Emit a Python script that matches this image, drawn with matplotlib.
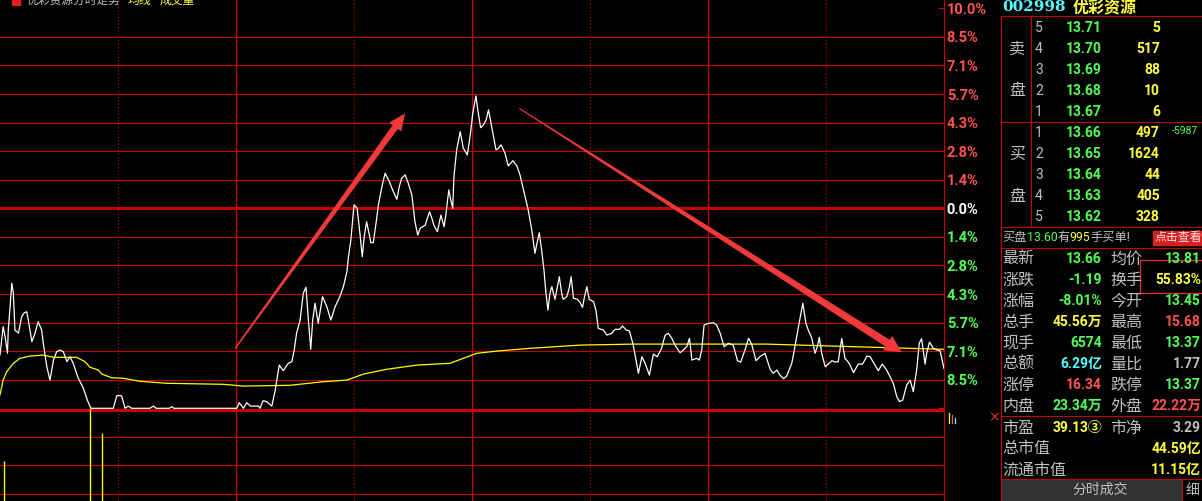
"""Intraday time-share chart of 002998 优彩资源 with the quote panel on the right."""

import numpy as np
import matplotlib
matplotlib.use("Agg")
import matplotlib.pyplot as plt
from matplotlib.lines import Line2D
from matplotlib.patches import Polygon, Rectangle
from matplotlib.transforms import IdentityTransform

plt.rcParams["font.family"] = ["Roboto", "Noto Sans CJK SC", "DejaVu Sans"]

W, H = 1202, 501

# ---- chart data (minutes since 9:30, % change vs previous close 14.85) ----
minutes = [
    0, 0.8, 1.3, 1.9, 2.1, 2.5, 3.0, 3.4, 3.8, 4.7,
    5.5, 6.1, 6.8, 7.2, 8.1, 8.9, 9.7, 10.6, 11.0, 11.9,
    12.7, 13.6, 14.4, 15.3, 16.1, 17.0, 17.8, 18.6, 19.9, 21.2,
    22.2, 23.1, 28.8, 29.7, 30.9, 31.8, 32.6, 33.5, 38.1, 39.0,
    39.7, 43.0, 43.7, 44.2, 60.2, 60.8, 61.9, 62.7, 63.7, 65.7,
    66.1, 66.9, 67.8, 69.1, 69.9, 71.0, 72.0, 73.3, 74.2, 74.8,
    75.4, 76.3, 77.1, 77.8, 78.4, 79.0, 79.5, 80.1, 80.9, 82.0,
    83.1, 84.1, 85.2, 86.4, 87.3, 88.2, 88.6, 89.2, 90.0, 90.8,
    91.5, 92.1, 92.6, 93.2, 93.8, 94.3, 94.9, 95.6, 96.2, 97.1,
    97.9, 99.0, 100.0, 100.9, 101.5, 102.1, 103.0, 103.8, 104.7, 105.5,
    106.2, 106.8, 108.1, 109.2, 109.8, 110.3, 111.2, 112.1, 112.9, 113.4,
    114.1, 114.6, 115.1, 115.4, 116.1, 117.0, 117.8, 118.8, 119.5, 120.2,
    121.0, 121.6, 122.2, 122.9, 123.6, 124.2, 125.0, 126.1, 126.7, 127.4,
    128.0, 128.4, 129.2, 130.4, 131.4, 132.2, 133.1, 134.3, 135.2, 136.0,
    136.6, 137.1, 137.7, 138.3, 138.8, 139.3, 139.8, 140.3, 140.7, 141.1,
    141.7, 142.2, 142.8, 143.2, 144.1, 144.7, 145.2, 145.8, 146.8, 147.5,
    148.1, 148.6, 149.2, 149.8, 150.9, 151.5, 152.1, 153.4, 154.3, 155.5,
    156.4, 157.5, 158.3, 159.2, 160.0, 161.0, 162.3, 163.2, 164.0, 165.1,
    166.1, 167.1, 168.2, 169.1, 169.9, 170.8, 171.6, 172.9, 173.7, 174.6,
    175.3, 175.9, 177.1, 177.8, 178.4, 179.0, 180.1, 181.4, 182.2, 183.1,
    184.1, 185.2, 186.4, 187.5, 188.3, 189.4, 190.3, 191.1, 192.2, 193.2,
    194.5, 195.8, 196.6, 197.5, 198.3, 199.2, 200.0, 201.3, 202.1, 203.0,
    204.1, 204.9, 205.5, 206.4, 207.2, 207.8, 208.3, 208.9, 209.8, 210.6,
    211.5, 212.3, 213.1, 214.0, 214.8, 215.9, 217.0, 218.2, 219.3, 220.4,
    221.2, 222.2, 223.3, 224.3, 225.3, 226.3, 227.1, 228.0, 228.7, 229.5,
    230.5, 231.4, 232.2, 233.1, 233.7, 234.3, 235.2, 235.6, 236.3, 237.3,
    238.2, 239.0, 240.0,
]
chg_pct = [
    -7.33, -5.92, -6.42, -7.24, -6.09, -5.09, -3.75, -4.25, -6.09, -6.24,
    -5.42, -5.24, -5.17, -5.59, -6.67, -6.25, -5.67, -6.09, -6.75, -7.92,
    -8.59, -7.59, -7.17, -7.09, -7.17, -7.67, -7.42, -7.75, -8.50, -9.00,
    -9.59, -10.00, -10.00, -9.37, -9.37, -10.00, -9.89, -10.00, -10.00, -9.89,
    -10.00, -10.00, -9.92, -10.00, -10.00, -9.72, -10.00, -9.72, -9.89, -9.89,
    -10.00, -9.62, -9.67, -9.89, -9.17, -7.84, -8.12, -7.75, -7.67, -7.09,
    -6.25, -5.59, -4.25, -3.95, -5.59, -7.05, -5.59, -4.75, -5.75, -4.42,
    -4.92, -5.59, -4.92, -4.42, -3.92, -3.17, -2.42, -1.59, 0.17, 0.00,
    -1.25, -2.42, -1.42, -0.67, -1.25, -1.72, -1.72, -0.75, 0.17, 1.08,
    1.75, 1.33, 0.83, 0.45, 1.08, 1.50, 1.67, 1.25, 0.67, -0.67,
    -1.34, -1.00, -0.84, -0.17, -0.50, -0.84, -1.17, -0.34, -0.92, -0.25,
    0.92, 0.42, 0.00, 1.58, 2.92, 3.83, 3.00, 2.67, 3.58, 4.75,
    5.62, 4.75, 4.03, 4.17, 4.42, 4.92, 4.08, 2.92, 3.00, 3.17,
    2.92, 2.75, 2.12, 2.38, 2.12, 1.67, 0.92, -0.09, -1.09, -2.25,
    -1.67, -1.22, -2.09, -3.09, -4.25, -5.09, -4.25, -3.92, -4.25, -4.55,
    -3.92, -3.42, -4.25, -4.55, -4.42, -4.00, -3.42, -4.50, -4.55, -4.72,
    -4.95, -4.42, -3.92, -4.55, -4.67, -5.09, -6.00, -6.09, -6.34, -6.25,
    -6.05, -6.05, -5.89, -6.09, -6.12, -6.84, -8.25, -7.42, -7.75, -8.34,
    -7.29, -7.42, -7.00, -6.34, -6.25, -6.50, -6.84, -7.22, -7.09, -6.92,
    -6.50, -7.59, -7.50, -7.59, -7.09, -5.84, -5.75, -5.72, -5.84, -6.25,
    -6.92, -6.75, -6.84, -7.62, -7.69, -7.09, -6.50, -6.79, -7.62, -7.42,
    -7.25, -8.05, -8.25, -8.09, -8.34, -8.52, -8.39, -7.75, -6.92, -5.92,
    -4.75, -5.75, -6.09, -6.50, -7.25, -6.92, -6.45, -7.25, -7.92, -7.79,
    -7.62, -7.69, -7.67, -6.50, -7.50, -7.75, -8.22, -7.79, -7.79, -7.39,
    -7.42, -7.75, -8.12, -7.79, -8.05, -8.42, -8.75, -9.42, -9.67, -9.59,
    -8.84, -8.59, -9.17, -8.00, -6.75, -6.52, -7.79, -7.25, -6.69, -7.00,
    -7.09, -7.12, -8.01,
]
avg_minutes = [0, 0.8, 1.7, 3.4, 5.1, 7.6, 11.0, 13.6, 19.5, 21.6, 22.9, 25.0,
               25.9, 28.4, 31.4, 35.6, 42.4, 56.8, 61.9, 73.7, 82.2, 88.2, 92.4,
               98.3, 106.0, 114.4, 121.2, 126.3, 134.8, 147.5, 161.0, 194.9,
               211.9, 240.0]
avg_pct = [-9.33, -8.59, -8.17, -7.75, -7.50, -7.39, -7.34, -7.45, -7.45, -7.67,
           -7.95, -8.09, -8.29, -8.47, -8.50, -8.65, -8.75, -8.80, -8.89, -8.85,
           -8.67, -8.59, -8.29, -8.05, -7.84, -7.75, -7.25, -7.14, -7.00, -6.84,
           -6.79, -6.79, -6.89, -7.05]
vol_minutes = [1, 23, 26]
vol_lots = [21800, 31000, 26200]

axis_labels = ["10.0%", "8.5%", "7.1%", "5.7%", "4.3%", "2.8%", "1.4%", "0.0%",
               "1.4%", "2.8%", "4.3%", "5.7%", "7.1%", "8.5%"]

# ---- quote panel data ----
prev_close = 14.85
sell_levels = [5, 4, 3, 2, 1]
sell_prices = [13.71, 13.70, 13.69, 13.68, 13.67]
sell_vols = [5, 517, 88, 10, 6]
buy_levels = [1, 2, 3, 4, 5]
buy_prices = [13.66, 13.65, 13.64, 13.63, 13.62]
buy_vols = [497, 1624, 44, 405, 328]

GRID = "#c80000"
GREEN = "#52ff52"
RED = "#ff5252"
YELLOW = "#ffff40"
CYAN = "#52ffff"
GRAY = "#c0c0c0"
ARROW = "#f03a3a"

stats_left = [("最新", "13.66", GREEN), ("涨跌", "-1.19", GREEN),
              ("涨幅", "-8.01%", GREEN), ("总手", "45.56万", YELLOW),
              ("现手", "6574", GREEN), ("总额", "6.29亿", CYAN),
              ("涨停", "16.34", RED), ("内盘", "23.34万", GREEN)]
stats_right = [("均价", "13.81", GREEN), ("换手", "55.83%", YELLOW),
               ("今开", "13.45", GREEN), ("最高", "15.68", RED),
               ("最低", "13.37", GREEN), ("量比", "1.77", GRAY),
               ("跌停", "13.37", GREEN), ("外盘", "22.22万", RED)]

CJK = ["Noto Sans CJK SC", "DejaVu Sans"]
NUM = ["Roboto", "Noto Sans CJK SC", "DejaVu Sans"]

fig = plt.figure(figsize=(W / 100, H / 100), dpi=100, facecolor="black")


def fx(x):
    return x / W


def fy(y):
    return 1 - y / H


def put(x, y, s, color, size, ha="left", weight="normal", family=NUM, **kw):
    return fig.text(fx(x), fy(y), s, color=color, fontsize=size, ha=ha,
                    va="center", fontweight=weight, family=family, **kw)


def hline(y, x0, x1, color=GRID, lw=1.0):
    fig.add_artist(Line2D([fx(x0), fx(x1)], [fy(y), fy(y)], color=color,
                          lw=lw * 0.72, transform=fig.transFigure))


def vline(x, y0, y1, color=GRID, lw=1.0):
    fig.add_artist(Line2D([fx(x), fx(x)], [fy(y0), fy(y1)], color=color,
                          lw=lw * 0.72, transform=fig.transFigure))


# ---- main price axes ----
chart_w = 944
ax = fig.add_axes([0, 0, chart_w / W, 1])
ax.set_facecolor("black")
ax.set_xlim(0, 240)
ax.set_ylim(10.415 - H / 20.0, 10.415)

step = 10 / 7
levels = [k * step for k in range(7, -11, -1)]
for lv in levels[1:]:
    thick = abs(lv) < 1e-9 or abs(lv + 10) < 1e-9
    ax.axhline(lv - (0.08 if abs(lv + 10) < 1e-9 else 0), color=GRID,
               lw=2.2 if thick else 0.8, zorder=1)
for t in (60, 120, 180):
    ax.axvline(t, color=GRID, lw=0.9, zorder=1)
for t in (30, 90, 150, 210):
    ax.axvline(t, color=GRID, lw=0.8, ls=(0, (1, 2)), zorder=1)

ax.plot(avg_minutes, avg_pct, color="#ffff00", lw=0.9, zorder=3)
ax.plot(minutes, chg_pct, color="white", lw=0.9, zorder=4)

for side in ("top", "left", "bottom"):
    ax.spines[side].set_visible(False)
ax.spines["right"].set_color(GRID)
ax.spines["right"].set_linewidth(0.8)
ax.set_xticks([])
ax.yaxis.tick_right()
tick_labels = axis_labels + [""] * (len(levels) - len(axis_labels))
ax.set_yticks(levels, labels=tick_labels)
ax.tick_params(axis="y", direction="in", length=4, width=0.8, color=GRID,
               pad=2, labelsize=10.5)
for lv, lbl in zip(levels, ax.get_yticklabels()):
    lbl.set_fontweight("bold")
    lbl.set_color(RED if lv > 1e-9 else ("white" if abs(lv) < 1e-9 else GREEN))

# ---- volume axes (baseline sits below the visible crop) ----
vax = fig.add_axes([0, (H - 600) / H, chart_w / W, (600 - 409) / H])
vax.set_xlim(0, 240)
vax.set_ylim(0, 30000)
vax.axis("off")
vax.vlines(vol_minutes, 0, vol_lots, color="#ffff00", lw=1.0)


# ---- hand-drawn style arrows ----
def tapered_arrow(start, end, w0, w1, head_w, head_l):
    s = ax.transData.transform(start)
    e = ax.transData.transform(end)
    u = (e - s) / np.hypot(*(e - s))
    n = np.array([-u[1], u[0]])
    b = e - u * head_l
    pts = [s + n * w0 / 2, b + n * w1 / 2, b + n * head_w / 2, e,
           b - n * head_w / 2, b - n * w1 / 2, s - n * w0 / 2]
    fig.add_artist(Polygon(pts, closed=True, transform=IdentityTransform(),
                           facecolor=ARROW, edgecolor="none", zorder=6))


tapered_arrow((59.8, -7.0), (103.0, 4.75), 1.5, 6.5, 15, 17)
tapered_arrow((132.0, 5.0), (229.3, -7.2), 1.0, 8.0, 17, 17)

# ---- chart title (cut off at the top, as in the screenshot) ----
fig.add_artist(Rectangle((fx(12), fy(5)), 8 / W, 5 / H, color="#e02020",
                         transform=fig.transFigure))
put(27, 0, "优彩资源分时走势", GRAY, 8.5, family=CJK)
put(128, 0, "均线", YELLOW, 8.5, family=CJK)
put(160, 0, "成交量", YELLOW, 8.5, family=CJK)

# small volume indicator icon next to the axis
for x0, h, c in ((949, 10, YELLOW), (952, 8, "#ff5a5a"), (955, 5, "#5affff")):
    vline(x0, 423, 423 - h, color=c, lw=1.3)
put(994, 417, "×", "#e03030", 10, ha="center", family=["DejaVu Sans"])

# ---- quote panel ----
hline(16, 1001, 1202)
vline(1001, 16, 501)
vline(1031, 16, 227)
for y in (122, 227, 248, 416, 479):
    hline(y, 1001, 1202)

put(1002, 7, "002998", CYAN, 11, weight="bold", family=["DejaVu Serif"])
put(1073, 7, "优彩资源", YELLOW, 11.5, weight="bold", family=CJK)

put(1017, 49, "卖", GRAY, 11.5, ha="center", family=CJK)
put(1017, 91, "盘", GRAY, 11.5, ha="center", family=CJK)
put(1017, 154, "买", GRAY, 11.5, ha="center", family=CJK)
put(1017, 196, "盘", GRAY, 11.5, ha="center", family=CJK)

for row0, lvls, prices, vols in ((28, sell_levels, sell_prices, sell_vols),
                                 (133, buy_levels, buy_prices, buy_vols)):
    for i, (lv, p, v) in enumerate(zip(lvls, prices, vols)):
        y = row0 + 21 * i
        pc = GREEN if p < prev_close else RED
        put(1035, y, str(lv), GRAY, 10)
        put(1102, y, f"{p:.2f}", pc, 10, ha="right", weight="bold")
        put(1160, y, str(v), YELLOW, 10, ha="right", weight="bold")
put(1172, 131, "-5987", GREEN, 7.5)

# "买盘13.60有995手买单!" as coloured runs
renderer = fig.canvas.get_renderer()
x = 1002
for s, c in (("买盘", GRAY), ("13.60", GREEN), ("有", GRAY), ("995", YELLOW),
             ("手买单!", GRAY)):
    t = put(x, 237, s, c, 8.8)
    x += t.get_window_extent(renderer).width
fig.add_artist(Rectangle((fx(1153), fy(245)), 50 / W, 14 / H, color="#d82020",
                         transform=fig.transFigure))
put(1154, 238, "点击查看", "#ffe0e0", 8.6, family=CJK)

RIGHT = 1201
for i, ((l1, v1, c1), (l2, v2, c2)) in enumerate(zip(stats_left, stats_right)):
    y = 259 + 21 * i
    put(1002, y, l1, GRAY, 11.5, family=CJK)
    put(1102, y, v1, c1, 10, ha="right", weight="bold")
    put(1110, y, l2, GRAY, 11.5, family=CJK)
    put(RIGHT, y, v2, c2, 10, ha="right", weight="bold")
fig.add_artist(Rectangle((fx(1140), fy(293)), 64 / W, 33 / H, fill=False,
                         edgecolor="#e03030", lw=0.9, transform=fig.transFigure))

put(1002, 428, "市盈", GRAY, 11.5, family=CJK)
put(1102, 428, "39.13③", YELLOW, 10, ha="right", weight="bold")
put(1110, 428, "市净", GRAY, 11.5, family=CJK)
put(RIGHT, 428, "3.29", GRAY, 10, ha="right", weight="bold")
put(1002, 449, "总市值", GRAY, 11.5, family=CJK)
put(RIGHT, 449, "44.59亿", YELLOW, 10, ha="right", weight="bold")
put(1002, 470, "流通市值", GRAY, 11.5, family=CJK)
put(RIGHT, 470, "11.15亿", YELLOW, 10, ha="right", weight="bold")

fig.add_artist(Rectangle((fx(1002), fy(501)), 179 / W, 21 / H, color="#333333",
                         transform=fig.transFigure))
vline(1182, 479, 501)
put(1100, 490, "分时成交", GRAY, 10, ha="center", family=CJK)
put(1192, 490, "细", GRAY, 10, ha="center", family=CJK)

fig.savefig("out.png", dpi=100, facecolor="black")
plt.close(fig)
